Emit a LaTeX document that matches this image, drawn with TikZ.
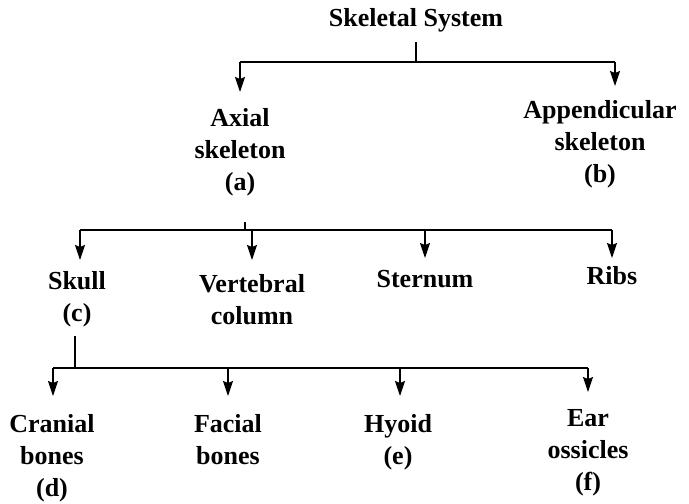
\documentclass[tikz,border=0pt]{standalone}
\usepackage{fontspec}
\setmainfont{Liberation Serif}
\usetikzlibrary{arrows.meta}
\begin{document}
\begin{tikzpicture}[x=1pt,y=-1pt,
  lbl/.style={font=\fontsize{26}{32}\selectfont\bfseries, align=center, inner sep=0pt, anchor=north},
  bar/.style={line width=2.4pt},
  drop/.style={line width=1.2pt, -{Stealth[length=15pt,width=10pt,inset=2pt]}},
  stem/.style={line width=1.2pt}]
\useasboundingbox (0,0) rectangle (689,504);
% top level
\node[lbl] (sys) at (416,8) {Skeletal System};
\node[lbl] (ax) at (240,108) {Axial\\skeleton\\(a)};
\node[lbl] (ap) at (600,100) {Appendicular\\skeleton\\(b)};
% second level
\node[lbl] (sk) at (77,271) {Skull\\(c)};
\node[lbl] (vc) at (252,274) {Vertebral\\column};
\node[lbl] (st) at (425,270) {Sternum};
\node[lbl] (rb) at (612,266) {Ribs};
% third level
\node[lbl] (cr) at (52,414) {Cranial\\bones\\(d)};
\node[lbl] (fa) at (228,414) {Facial\\bones};
\node[lbl] (hy) at (398,414) {Hyoid\\(e)};
\node[lbl] (ea) at (588,409) {Ear\\ossicles\\(f)};
% junction points and arrow tips
\coordinate (t1) at (416,42);
\coordinate (j1) at (416,62);
\coordinate (j1l) at (240,62);
\coordinate (j1r) at (615,62);
\coordinate (a1l) at (240,92);
\coordinate (a1r) at (615,86);
\coordinate (t2) at (245,222);
\coordinate (j2) at (245,230);
\coordinate (j2l) at (80,230);
\coordinate (j2r) at (612,230);
\coordinate (t3) at (75,336);
\coordinate (j3) at (75,368);
\coordinate (j3l) at (53,368);
\coordinate (j3r) at (588,368);
% connectors: level 1
\draw[stem] (t1) -- (j1);
\draw[bar] (j1l) -- (j1r);
\draw[drop] (j1l) -- (a1l);
\draw[drop] (j1r) -- (a1r);
% connectors: level 2
\draw[stem] (t2) -- (j2);
\draw[bar] (j2l) -- (j2r);
\draw[drop] (j2l) -- (80,260);
\draw[drop] (252,230) -- (252,260);
\draw[drop] (425,230) -- (425,258);
\draw[drop] (j2r) -- (612,258);
% connectors: level 3
\draw[stem] (t3) -- (j3);
\draw[bar] (j3l) -- (j3r);
\draw[drop] (j3l) -- (53,396);
\draw[drop] (228,368) -- (228,396);
\draw[drop] (400,368) -- (400,396);
\draw[drop] (j3r) -- (588,392);
\end{tikzpicture}
\end{document}
